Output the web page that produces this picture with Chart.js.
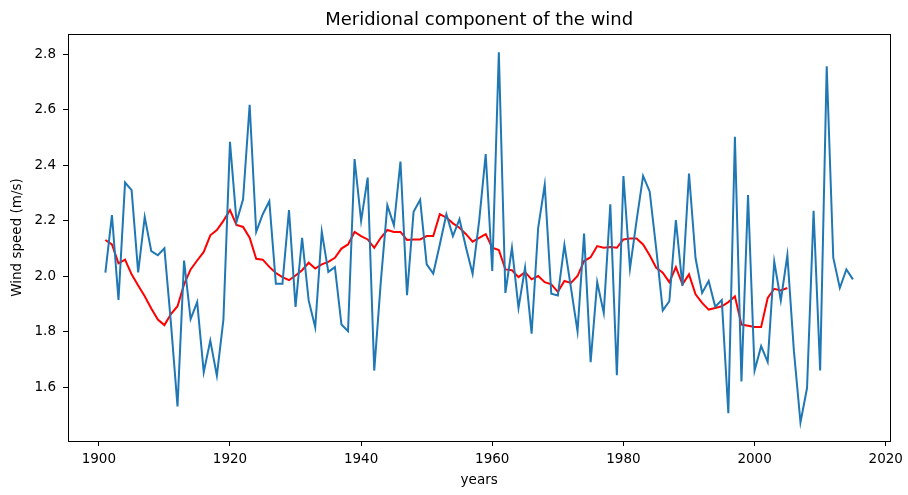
<!DOCTYPE html>
<html>
<head>
<meta charset="utf-8">
<title>Meridional component of the wind</title>
<script src="https://cdn.jsdelivr.net/npm/chart.js@4.4.1/dist/chart.umd.min.js"></script>
<style>
  html, body { margin: 0; padding: 0; background: #fff; }
</style>
</head>
<body>
<canvas id="graficoVento" width="908" height="495"></canvas>
<script>
const years = [
  1901, 1902, 1903, 1904, 1905, 1906, 1907, 1908, 1909, 1910,
  1911, 1912, 1913, 1914, 1915, 1916, 1917, 1918, 1919, 1920,
  1921, 1922, 1923, 1924, 1925, 1926, 1927, 1928, 1929, 1930,
  1931, 1932, 1933, 1934, 1935, 1936, 1937, 1938, 1939, 1940,
  1941, 1942, 1943, 1944, 1945, 1946, 1947, 1948, 1949, 1950,
  1951, 1952, 1953, 1954, 1955, 1956, 1957, 1958, 1959, 1960,
  1961, 1962, 1963, 1964, 1965, 1966, 1967, 1968, 1969, 1970,
  1971, 1972, 1973, 1974, 1975, 1976, 1977, 1978, 1979, 1980,
  1981, 1982, 1983, 1984, 1985, 1986, 1987, 1988, 1989, 1990,
  1991, 1992, 1993, 1994, 1995, 1996, 1997, 1998, 1999, 2000,
  2001, 2002, 2003, 2004, 2005, 2006, 2007, 2008, 2009, 2010,
  2011, 2012, 2013, 2014, 2015
];

// yearly wind speed (blue)
const windSpeed = [
  2.013, 2.221, 1.915, 2.338, 2.311, 2.014, 2.214, 2.091, 2.076, 2.101,
  1.830, 1.531, 2.057, 1.846, 1.907, 1.654, 1.768, 1.642, 1.844, 2.485,
  2.197, 2.278, 2.619, 2.160, 2.224, 2.271, 1.973, 1.973, 2.239, 1.890,
  2.139, 1.913, 1.816, 2.161, 2.016, 2.033, 1.826, 1.802, 2.423, 2.200,
  2.356, 1.660, 1.980, 2.256, 2.184, 2.414, 1.932, 2.233, 2.276, 2.043,
  2.010, 2.115, 2.224, 2.145, 2.206, 2.103, 2.009, 2.200, 2.441, 2.019,
  2.808, 1.940, 2.103, 1.886, 2.031, 1.793, 2.175, 2.330, 1.937, 1.931,
  2.113, 1.958, 1.802, 2.154, 1.690, 1.979, 1.868, 2.260, 1.643, 2.362,
  2.028, 2.200, 2.362, 2.306, 2.100, 1.877, 1.910, 2.203, 1.965, 2.371,
  2.065, 1.940, 1.983, 1.890, 1.914, 1.506, 2.503, 1.621, 2.293, 1.660,
  1.748, 1.691, 2.053, 1.913, 2.076, 1.730, 1.473, 1.597, 2.236, 1.660,
  2.758, 2.067, 1.958, 2.025, 1.989
];

// smoothed curve (red), 1901 - 2005
const windSmooth = [
  2.131, 2.115, 2.047, 2.060, 2.007, 1.967, 1.928, 1.884, 1.844, 1.824,
  1.864, 1.892, 1.971, 2.025, 2.057, 2.088, 2.148, 2.167, 2.200, 2.239,
  2.185, 2.178, 2.139, 2.063, 2.060, 2.034, 2.012, 1.997, 1.986, 2.003,
  2.022, 2.049, 2.028, 2.043, 2.052, 2.067, 2.100, 2.115, 2.160, 2.145,
  2.133, 2.103, 2.139, 2.167, 2.160, 2.160, 2.131, 2.133, 2.133, 2.145,
  2.145, 2.224, 2.212, 2.191, 2.175, 2.152, 2.125, 2.139, 2.152, 2.103,
  2.095, 2.025, 2.022, 1.997, 2.015, 1.989, 2.001, 1.979, 1.971, 1.944,
  1.983, 1.976, 2.001, 2.055, 2.069, 2.109, 2.103, 2.106, 2.103, 2.133,
  2.136, 2.136, 2.115, 2.076, 2.031, 2.013, 1.979, 2.033, 1.971, 2.007,
  1.935, 1.904, 1.880, 1.886, 1.892, 1.907, 1.928, 1.826, 1.822, 1.817,
  1.817, 1.922, 1.955, 1.949, 1.958
];

const xTicks = [1900, 1920, 1940, 1960, 1980, 2000, 2020];
const yTicks = [1.6, 1.8, 2.0, 2.2, 2.4, 2.6, 2.8];

const titulo = 'Meridional component of the wind';
const fonte = "'DejaVu Sans', sans-serif";

function toPoints(xs, ys){
  return ys.map((v, i) => ({ x: xs[i], y: v }));
}

// frame around the plot (all four sides) + title centred over the plot area
const moldura = {
  id: 'moldura',
  afterDatasetsDraw(chart){
    const { ctx, chartArea } = chart;
    ctx.save();
    ctx.strokeStyle = '#000';
    ctx.lineWidth = 1;
    ctx.strokeRect(Math.round(chartArea.left) + 0.5, Math.round(chartArea.top) + 0.5,
      Math.round(chartArea.right - chartArea.left), Math.round(chartArea.bottom - chartArea.top));
    ctx.fillStyle = '#000';
    ctx.font = '18px ' + fonte;
    ctx.textAlign = 'center';
    ctx.textBaseline = 'middle';
    ctx.fillText(titulo, (chartArea.left + chartArea.right) / 2, 20);
    ctx.restore();
  }
};

const graficoVento = new Chart(document.getElementById('graficoVento'), {
  type: 'line',
  data: {
    datasets: [{
      label: 'wind',
      data: toPoints(years, windSpeed),
      borderColor: '#1f77b4',
      borderWidth: 2,
      pointRadius: 0,
      tension: 0
    }, {
      label: 'smooth',
      data: toPoints(years, windSmooth),
      borderColor: '#ff0000',
      borderWidth: 2,
      pointRadius: 0,
      tension: 0
    }]
  },
  options: {
    responsive: false,
    animation: false,
    devicePixelRatio: 1,
    layout: { padding: { left: 0, right: 17, top: 34, bottom: 0 } },
    plugins: {
      legend: { display: false },
      tooltip: { enabled: false },
      title: { display: false }
    },
    scales: {
      x: {
        type: 'linear',
        min: 1895.3,
        max: 2020.7,
        afterBuildTicks: axis => { axis.ticks = xTicks.map(v => ({ value: v })); },
        afterFit: axis => { axis.height = 54; },
        border: { display: false },
        grid: { drawOnChartArea: false, drawTicks: true, tickLength: 5, color: '#000', tickWidth: 1 },
        ticks: {
          color: '#000',
          padding: 5,
          font: { family: fonte, size: 13.5 },
          maxRotation: 0,
          callback: v => String(v)
        },
        title: {
          display: true,
          text: 'years',
          color: '#000',
          font: { family: fonte, size: 13.5 },
          padding: { top: 0, bottom: 6 }
        }
      },
      y: {
        min: 1.406,
        max: 2.874,
        afterBuildTicks: axis => { axis.ticks = yTicks.map(v => ({ value: v })); },
        afterFit: axis => { axis.width = 68; },
        border: { display: false },
        grid: { drawOnChartArea: false, drawTicks: true, tickLength: 5, color: '#000', tickWidth: 1 },
        ticks: {
          color: '#000',
          padding: 7,
          font: { family: fonte, size: 13.5 },
          callback: v => v.toFixed(1)
        },
        title: {
          display: true,
          text: 'Wind speed (m/s)',
          color: '#000',
          font: { family: fonte, size: 13.5 },
          padding: { top: 9, bottom: 0 }
        }
      }
    }
  },
  plugins: [moldura]
});
</script>
</body>
</html>
